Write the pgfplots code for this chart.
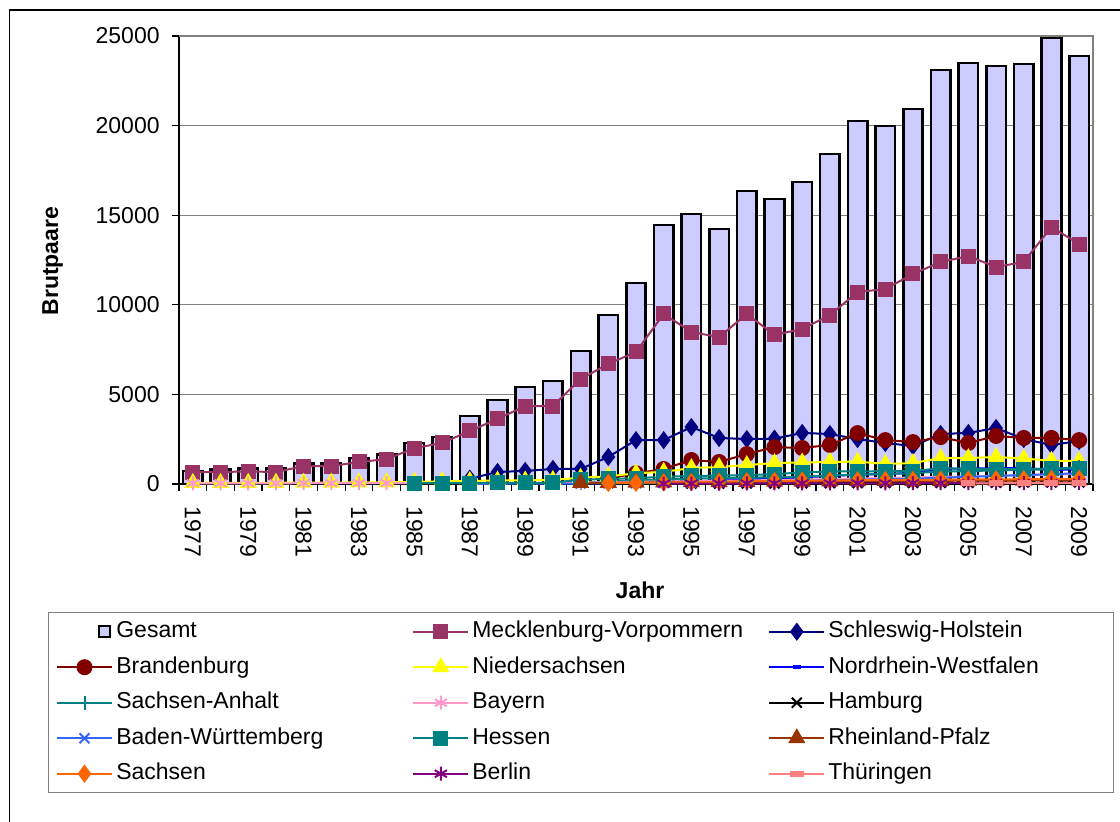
\documentclass[border=0pt]{standalone}
\usepackage{pgfplots}
\pgfplotsset{compat=1.18}
\usepackage{pgfplotstable}
\usepackage{fontspec}
\setmainfont{Liberation Sans}

\definecolor{cGes}{RGB}{204,204,255}
\definecolor{cMV}{RGB}{153,51,102}
\definecolor{cSH}{RGB}{0,0,128}
\definecolor{cBB}{RGB}{128,0,0}
\definecolor{cNS}{RGB}{255,255,0}
\definecolor{cNW}{RGB}{0,0,255}
\definecolor{cSA}{RGB}{0,128,128}
\definecolor{cBY}{RGB}{255,153,204}
\definecolor{cHH}{RGB}{0,0,0}
\definecolor{cBW}{RGB}{51,102,255}
\definecolor{cHE}{RGB}{0,128,128}
\definecolor{cRP}{RGB}{153,51,0}
\definecolor{cSN}{RGB}{255,102,0}
\definecolor{cBE}{RGB}{128,0,128}
\definecolor{cTH}{RGB}{255,128,128}
\definecolor{frame}{RGB}{128,128,128}

\pgfplotstableread{
year Ges MV SH BB NS NW SA BY HH BW HE RP SN BE TH
1977 730 660 nan nan 60 nan nan 40 nan nan nan nan nan nan nan
1978 800 670 nan nan 60 nan nan 40 nan nan nan nan nan nan nan
1979 850 700 nan nan 70 nan nan 40 nan nan nan nan nan nan nan
1980 850 670 nan nan 70 nan nan 40 nan nan nan nan nan nan nan
1981 1150 1000 nan nan 80 nan nan 45 nan nan nan nan nan nan nan
1982 1150 1000 nan nan 80 nan nan 45 nan nan nan nan nan nan nan
1983 1450 1230 nan nan 90 nan nan 50 nan nan nan nan nan nan nan
1984 1650 1390 nan nan 90 nan nan 50 nan nan nan nan nan nan nan
1985 2290 2000 nan nan 120 nan nan 50 nan nan 40 nan nan nan nan
1986 2620 2290 nan nan 150 nan nan 55 nan nan 50 nan nan nan nan
1987 3800 2960 300 nan 170 nan nan 55 nan 10 50 nan nan nan nan
1988 4690 3630 670 nan 200 nan nan 60 nan 15 60 nan nan nan nan
1989 5420 4350 730 nan 200 nan nan 60 nan 20 60 nan nan nan nan
1990 5750 4350 840 nan 230 nan nan 60 nan 25 70 nan nan nan nan
1991 7430 5860 840 nan 350 40 80 80 nan 30 250 60 nan nan nan
1992 9430 6700 1510 300 430 60 150 100 nan 40 280 70 60 nan nan
1993 11220 7370 2450 600 600 90 200 120 nan 50 330 80 70 nan nan
1994 14450 9490 2450 840 680 120 250 140 nan 60 400 90 90 20 nan
1995 15070 8480 3180 1340 890 160 300 160 20 80 450 100 110 25 nan
1996 14230 8200 2570 1230 950 200 330 180 25 100 470 110 130 25 nan
1997 16350 9490 2510 1670 1060 240 350 200 30 120 500 120 150 30 nan
1998 15900 8320 2530 2060 1170 300 380 220 35 150 550 130 170 30 nan
1999 16850 8650 2850 2010 1200 380 420 250 40 180 650 140 190 35 nan
2000 18420 9430 2790 2180 1230 450 480 280 45 210 700 150 200 35 nan
2001 20260 10710 2510 2840 1250 520 520 310 50 240 700 160 210 40 nan
2002 19980 10880 2290 2450 1120 560 560 340 55 270 720 170 220 40 nan
2003 20930 11720 2120 2340 1170 620 600 370 60 300 720 175 230 45 nan
2004 23100 12390 2790 2620 1450 850 700 400 65 350 880 180 240 45 nan
2005 23490 12720 2850 2290 1450 860 720 420 70 400 850 185 250 50 30
2006 23330 12110 3125 2680 1510 880 760 460 75 450 830 190 260 50 40
2007 23440 12390 2510 2570 1420 900 780 500 80 500 830 195 270 55 50
2008 24890 14340 2180 2570 1300 780 830 520 85 550 850 200 280 55 60
2009 23880 13390 2400 2450 1280 820 950 560 90 600 860 200 290 60 60
}\datatable

\newcommand{\chartfont}{\fontsize{11.5pt}{13.5pt}\selectfont}

\begin{document}
\begin{tikzpicture}
\begin{axis}[
  at={(89.5pt,-242pt)}, anchor=south west,
  scale only axis, width=457pt, height=224pt,
  xmin=1976.5, xmax=2009.5, ymin=0, ymax=25000,
  clip=false,
  axis x line*=bottom, axis y line*=left,
  axis line style={black, line width=0.7pt, -},
  xtick={1977,1979,...,2009},
  minor xtick={1976.5,1977.5,...,2009.5},
  ytick={0,5000,...,25000},
  tick align=outside,
  major tick length=3.5pt, minor tick length=3.5pt,
  every major x tick/.append style={draw=none},
  tick style={black, line width=0.6pt},
  ymajorgrids,
  grid style={frame, line width=0.6pt},
  scaled y ticks=false,
  /pgf/number format/assume math mode=true,
  /pgf/number format/set thousands separator={},
  tick label style={font=\chartfont},
  yticklabel style={anchor=east, inner sep=0pt, xshift=-6pt},
  xticklabel style={yshift=-7.5pt, anchor=west, inner sep=0pt, rotate=-90},
  every axis plot/.append style={line width=1pt},
  legend columns=3,
  legend cell align=left,
  legend style={at={(-0.1433,-0.2857)}, anchor=north west,
    draw=frame, line width=0.7pt, inner xsep=3.5pt, inner ysep=4pt,
    row sep=6.75pt, column sep=0pt, font=\chartfont,
    nodes={inner sep=0pt, text height=8.5pt, text depth=2.5pt}},
  legend image code/.code={\draw[mark repeat=2,mark phase=2,#1] plot coordinates {(0pt,0pt) (13.75pt,0pt) (27.5pt,0pt)}; \path (0pt,0pt) (29pt,0pt);},
]
\addplot[ybar, bar width=9.75pt, fill=cGes, draw=black, line width=1.3pt,
  legend image code/.code={\draw[fill=cGes, draw=black, line width=1pt] (21pt,-2.75pt) rectangle (26.5pt,2.75pt); \path (0pt,0pt) (29pt,0pt);}]
  table[x=year, y=Ges] {\datatable};
\addlegendentry{\makebox[148pt][l]{Gesamt}}
\addplot[color=cMV, mark=square*, mark size=3.25pt, mark options={solid, fill=cMV}]
  table[x=year, y=MV] {\datatable};
\addlegendentry{\makebox[148pt][l]{Mecklenburg-Vorpommern}}
\addplot[color=cSH, mark=diamond*, mark size=3.75pt, mark options={solid, fill=cSH}]
  table[x=year, y=SH] {\datatable};
\addlegendentry{\makebox[139pt][l]{Schleswig-Holstein}}
\addplot[color=cBB, mark=*, mark size=3.5pt, mark options={solid, fill=cBB}]
  table[x=year, y=BB] {\datatable};
\addlegendentry{\makebox[148pt][l]{Brandenburg}}
\addplot[color=cNS, mark=triangle*, mark size=4pt, mark options={solid, fill=cNS}]
  table[x=year, y=NS] {\datatable};
\addlegendentry{\makebox[148pt][l]{Niedersachsen}}
\addplot[color=cNW, mark=-, mark size=2pt, mark options={solid, line width=2pt}]
  table[x=year, y=NW] {\datatable};
\addlegendentry{\makebox[139pt][l]{Nordrhein-Westfalen}}
\addplot[color=cSA, mark=+, mark size=3.5pt, mark options={solid}]
  table[x=year, y=SA] {\datatable};
\addlegendentry{\makebox[148pt][l]{Sachsen-Anhalt}}
\addplot[color=cBY, mark=asterisk, mark size=3.5pt, mark options={solid}]
  table[x=year, y=BY] {\datatable};
\addlegendentry{\makebox[148pt][l]{Bayern}}
\addplot[color=cHH, mark=x, mark size=3.5pt, mark options={solid}]
  table[x=year, y=HH] {\datatable};
\addlegendentry{\makebox[139pt][l]{Hamburg}}
\addplot[color=cBW, mark=x, mark size=3.5pt, mark options={solid}]
  table[x=year, y=BW] {\datatable};
\addlegendentry{\makebox[148pt][l]{Baden-Württemberg}}
\addplot[color=cHE, mark=square*, mark size=3.25pt, mark options={solid, fill=cHE}]
  table[x=year, y=HE] {\datatable};
\addlegendentry{\makebox[148pt][l]{Hessen}}
\addplot[color=cRP, mark=triangle*, mark size=4pt, mark options={solid, fill=cRP}]
  table[x=year, y=RP] {\datatable};
\addlegendentry{\makebox[139pt][l]{Rheinland-Pfalz}}
\addplot[color=cSN, mark=diamond*, mark size=3.75pt, mark options={solid, fill=cSN}]
  table[x=year, y=SN] {\datatable};
\addlegendentry{\makebox[148pt][l]{Sachsen}}
\addplot[color=cBE, mark=asterisk, mark size=3.5pt, mark options={solid}]
  table[x=year, y=BE] {\datatable};
\addlegendentry{\makebox[148pt][l]{Berlin}}
\addplot[color=cTH, mark=-, mark size=3.5pt, mark options={solid, line width=3pt}]
  table[x=year, y=TH] {\datatable};
\addlegendentry{\makebox[139pt][l]{Thüringen}}
\draw[frame, line width=0.8pt] (axis cs:1976.5,25000) -- (axis cs:2009.5,25000) -- (axis cs:2009.5,0);
\end{axis}
\node[font=\bfseries\chartfont, rotate=90] at (26.25pt,-130.5pt) {Brutpaare};
\node[font=\bfseries\chartfont] at (320pt,-295pt) {Jahr};
\draw[black, line width=0.7pt] (4.75pt,-420pt) -- (4.75pt,-5pt) -- (570pt,-5pt);
\pgfresetboundingbox
\useasboundingbox (0pt,0pt) rectangle (560pt,-410.5pt);
\end{tikzpicture}
\end{document}
